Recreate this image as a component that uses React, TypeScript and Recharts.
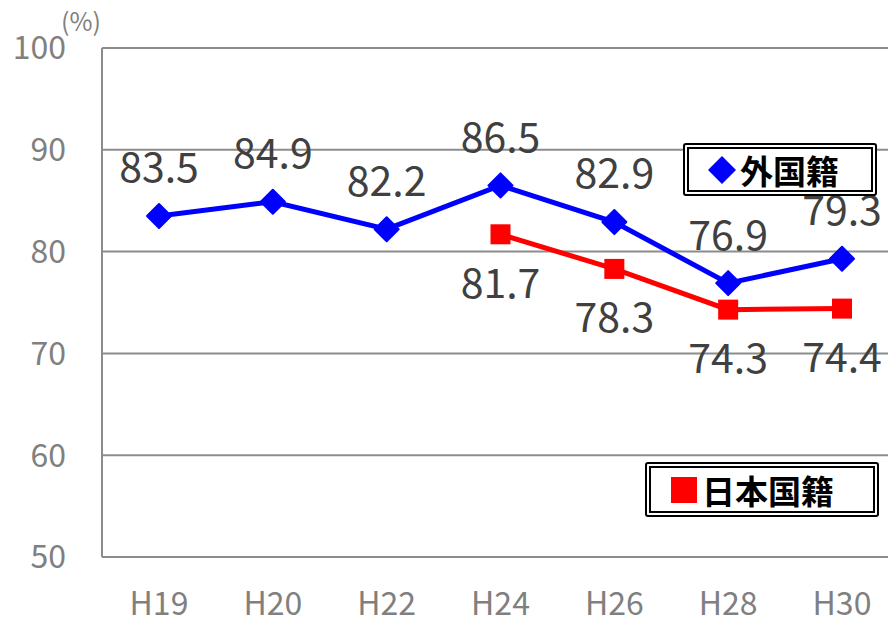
import { LineChart, Line, XAxis, YAxis, CartesianGrid, LabelList } from "recharts";

const years = ["H19", "H20", "H22", "H24", "H26", "H28", "H30"];
const foreignRate = [83.5, 84.9, 82.2, 86.5, 82.9, 76.9, 79.3];
const japaneseRate = [null, null, null, 81.7, 78.3, 74.3, 74.4];
const yTicks = [50, 60, 70, 80, 90, 100];
const FOREIGN = "外国籍";
const JAPANESE = "日本国籍";

const data = years.map((y, i) => ({
  year: y,
  foreign: foreignRate[i],
  japanese: japaneseRate[i],
}));

const FONT = "'Noto Sans CJK JP', 'Noto Sans', sans-serif";
const GRID = "#8c8c8c";
const TICK = "#808080";
const LABEL = "#404040";

const Diamond = (props: any) => {
  const { cx, cy, value } = props;
  if (value == null || cx == null) return null;
  const r = 12;
  return (
    <path
      d={`M${cx},${cy - r}L${cx + r},${cy}L${cx},${cy + r}L${cx - r},${cy}Z`}
      fill="#0000ff"
      stroke="#0000ff"
      strokeLinejoin="round"
      strokeWidth={2}
    />
  );
};

const Square = (props: any) => {
  const { cx, cy, value } = props;
  if (value == null || cx == null) return null;
  return <rect x={cx - 10} y={cy - 10} width={20} height={20} fill="#ff0000" />;
};

const makeLabel = (shift: number) => (props: any) => {
  const { x, y, value } = props;
  if (value == null) return null;
  return (
    <text
      x={x}
      y={y + shift}
      dy="0.35em"
      textAnchor="middle"
      fill={LABEL}
      fontSize={41}
      fontFamily={FONT}
    >
      {value.toFixed(1)}
    </text>
  );
};

const XTick = (props: any) => {
  const { x, payload } = props;
  return (
    <text
      x={x}
      y={604}
      dy="0.35em"
      textAnchor="middle"
      fill={TICK}
      fontSize={32}
      fontFamily={FONT}
    >
      {payload.value}
    </text>
  );
};

const legendBox = {
  position: "absolute" as const,
  border: "6px double #000",
  borderRadius: 3,
  background: "#fff",
  boxSizing: "border-box" as const,
  display: "flex",
  alignItems: "center",
  fontFamily: FONT,
  fontWeight: 700,
  fontSize: 33,
  color: "#000",
};

export default function App() {
  return (
    <div
      style={{
        position: "absolute",
        left: 0,
        top: 0,
        width: 888,
        height: 620,
        overflow: "hidden",
        background: "#fff",
      }}
    >
      <LineChart
        width={900}
        height={620}
        data={data}
        margin={{ top: 48, right: 1, left: 0, bottom: 0 }}
      >
        <CartesianGrid horizontal vertical={false} stroke={GRID} strokeWidth={2} />
        <XAxis
          dataKey="year"
          axisLine={{ stroke: GRID, strokeWidth: 2 }}
          tickLine={false}
          padding={{ left: 57, right: 57 }}
          height={63}
          tick={<XTick />}
        />
        <YAxis
          domain={[50, 100]}
          ticks={yTicks}
          width={102}
          axisLine={{ stroke: GRID, strokeWidth: 2 }}
          tickLine={false}
          tickSize={0}
          tickMargin={36}
          tick={{ fill: TICK, fontSize: 32, fontFamily: FONT }}
        />
        <Line
          dataKey="foreign"
          name={FOREIGN}
          stroke="#0000ff"
          strokeWidth={5}
          dot={<Diamond />}
          activeDot={false}
          isAnimationActive={false}
        >
          <LabelList dataKey="foreign" content={makeLabel(-48)} />
        </Line>
        <Line
          dataKey="japanese"
          name={JAPANESE}
          stroke="#ff0000"
          strokeWidth={5}
          dot={<Square />}
          activeDot={false}
          connectNulls={false}
          isAnimationActive={false}
        >
          <LabelList dataKey="japanese" content={makeLabel(49)} />
        </Line>
      </LineChart>
      <div
        style={{
          position: "absolute",
          left: 61,
          top: 2,
          fontSize: 25,
          color: TICK,
          fontFamily: FONT,
        }}
      >
        (%)
      </div>
      <div style={{ ...legendBox, left: 683, top: 143, width: 194, height: 53, paddingLeft: 18 }}>
        <svg width={30} height={30} style={{ marginRight: 3 }}>
          <path d="M15,1L29,15L15,29L1,15Z" fill="#0000ff" />
        </svg>
        <span>{FOREIGN}</span>
      </div>
      <div style={{ ...legendBox, left: 645, top: 462, width: 234, height: 55, paddingLeft: 20 }}>
        <svg width={26} height={26} style={{ marginRight: 5 }}>
          <rect x={0} y={0} width={26} height={26} fill="#ff0000" />
        </svg>
        <span>{JAPANESE}</span>
      </div>
    </div>
  );
}
